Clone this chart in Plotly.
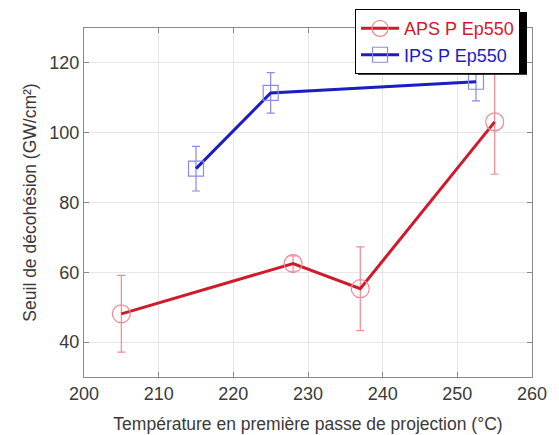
import plotly.graph_objects as go

# APS P Ep550 (red, circles)
aps_temp = [205, 228, 237, 255]
aps_seuil = [48.1, 62.5, 55.3, 103.1]
aps_err = [11.0, 2.2, 12.0, 15.0]

# IPS P Ep550 (blue, squares)
ips_temp = [215, 225, 252.5]
ips_seuil = [89.7, 111.4, 114.6]
ips_err = [6.4, 5.8, 5.5]

x_ticks = [200, 210, 220, 230, 240, 250, 260]
y_ticks = [40, 60, 80, 100, 120]

FONT = "Liberation Sans"
RED, RED_LIGHT = "#cf1a2b", "#f08a92"
BLUE, BLUE_LIGHT = "#1c1cc4", "#8a8ae6"

fig = go.Figure()
fig.add_trace(go.Scatter(
    x=aps_temp, y=aps_seuil, mode="lines+markers",
    name=f"<span style='color:{RED}'>APS P Ep550</span>",
    line=dict(color=RED, width=3),
    marker=dict(symbol="circle-open", size=18, color=RED_LIGHT, line=dict(width=1.2)),
    error_y=dict(type="data", array=aps_err, color=RED_LIGHT, thickness=1.2, width=4),
))
fig.add_trace(go.Scatter(
    x=ips_temp, y=ips_seuil, mode="lines+markers",
    name=f"<span style='color:{BLUE}'>IPS P Ep550</span>",
    line=dict(color=BLUE, width=3),
    marker=dict(symbol="square-open", size=15, color=BLUE_LIGHT, line=dict(width=1.2)),
    error_y=dict(type="data", array=ips_err, color=BLUE_LIGHT, thickness=1.2, width=4),
))

axis_common = dict(showline=True, linecolor="#8a8a8a", linewidth=1, mirror="ticks",
                   ticks="inside", ticklen=5, tickcolor="#8a8a8a", automargin=False,
                   showgrid=True, gridcolor="#e6e6e6", gridwidth=1, zeroline=False,
                   tickfont=dict(family=FONT, size=18, color="#3a3a3a"))

# drop shadow behind the legend box (matlab style)
fig.add_shape(type="rect", xref="paper", yref="paper",
              x0=0.6116, x1=0.9888, y0=0.866, y1=1.046,
              fillcolor="black", line=dict(width=0), layer="above")

# the page body has an 8px margin, so the figure is 8px smaller than the window
fig.update_layout(
    width=551, height=427,
    paper_bgcolor="white", plot_bgcolor="white",
    margin=dict(l=76, r=27, t=20, b=58, autoexpand=False),
    font=dict(family=FONT, color="#3a3a3a"),
    xaxis=dict(range=[200, 260], tickvals=x_ticks,
               title=dict(text="Température en première passe de projection (°C)",
                          font=dict(size=17.5), standoff=15),
               **axis_common),
    yaxis=dict(range=[30, 130], tickvals=y_ticks,
               title=dict(text="Seuil de décohésion (GW/cm²)",
                          font=dict(size=17.5), standoff=8),
               **axis_common),
    legend=dict(x=0.605, y=1.054, xanchor="left", yanchor="top",
                bgcolor="white", bordercolor="black", borderwidth=1,
                font=dict(family=FONT, size=18), tracegroupgap=0,
                itemwidth=38),
    showlegend=True,
)

fig.write_html("out.html")
